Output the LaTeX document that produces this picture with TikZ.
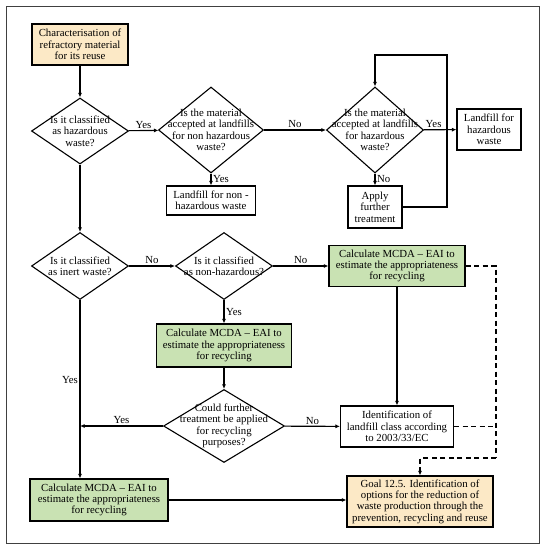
\documentclass[tikz,border=0pt]{standalone}
\usepackage{fontspec}
\setmainfont{Liberation Serif}
\usetikzlibrary{shapes.geometric,arrows.meta}
\definecolor{startyellow}{HTML}{FCE9C6}
\definecolor{mcdagreen}{HTML}{C9E2B3}
\tikzset{
	box/.style={draw, line width=1.1pt, align=center, inner sep=1pt},
	decision/.style={draw, diamond, line width=1.1pt, inner sep=0pt},
	flow/.style={line width=1.1pt, -{Latex[length=4.5pt,width=4pt]}},
	dashflow/.style={line width=1.1pt, dash pattern=on 5pt off 3.5pt},
	lbl/.style={inner sep=1.5pt}
}
\begin{document}
\begin{tikzpicture}[x=1pt, y=-1pt, font=\fontsize{10.8}{11.4}\selectfont]
		\useasboundingbox (0,0) rectangle (546,550);
		% Frame
		\draw[black!75, line width=1pt] (6,6) rectangle (539,543);

		% Boxes
		\node[box, fill=startyellow, minimum width=96pt, minimum height=41pt] (start) at (80,44.5) {Characterisation of\\refractory material\\for its reuse};
		\node[box, minimum width=89pt, minimum height=29pt] (lfnon) at (211,200.5) {Landfill for non -\\hazardous waste};
		\node[box, minimum width=64pt, minimum height=41pt] (lfhaz) at (489,129.5) {Landfill for\\hazardous\\waste};
		\node[box, minimum width=54pt, minimum height=42pt] (apply) at (375,207) {Apply\\further\\treatment};
		\node[box, fill=mcdagreen, minimum width=135pt, minimum height=43pt] (mcdamid) at (224,345.5) {Calculate MCDA -- EAI to\\estimate the appropriateness\\for recycling};
		\node[box, fill=mcdagreen, minimum width=136pt, minimum height=41pt] (mcdaright) at (397,266) {Calculate MCDA -- EAI to\\estimate the appropriateness\\for recycling};
		\node[box, minimum width=113pt, minimum height=41pt] (ident) at (397,426.5) {Identification of\\landfill class according\\to 2003/33/EC};
		\node[box, fill=mcdagreen, minimum width=138pt, minimum height=42pt] (mcdaleft) at (99,500) {Calculate MCDA -- EAI to\\estimate the appropriateness\\for recycling};
		\node[box, fill=startyellow, minimum width=146pt, minimum height=51pt] (goal) at (420,501.5) {Goal 12.5. Identification of\\options for the reduction of\\waste production through the\\prevention, recycling and reuse};

		% Decisions
		\node[decision, minimum width=97pt, minimum height=66pt, label={[align=center]center:Is it classified\\as hazardous\\waste?}] (haz) at (80,131) {};
		\node[decision, minimum width=105pt, minimum height=86pt, label={[align=center]center:Is the material\\accepted at landfills\\for non hazardous\\waste?}] (nonhazland) at (211,130) {};
		\node[decision, minimum width=97pt, minimum height=86pt, label={[align=center]center:Is the material\\accepted at landfills\\for hazardous\\waste?}] (hazland) at (375,130) {};
		\node[decision, minimum width=97pt, minimum height=67pt, label={[align=center]center:Is it classified\\as inert waste?}] (inert) at (80,266) {};
		\node[decision, minimum width=97pt, minimum height=67pt, label={[align=center]center:Is it classified\\as non-hazardous?}] (nonhaz) at (224,266) {};
		\node[decision, minimum width=121pt, minimum height=73pt, label={[align=center]center:Could further\\treatment be applied\\for recycling\\purposes?}] (further) at (224,426) {};

		% Helper points
		\coordinate (loop) at (447,55);
		\coordinate (dashturn) at (496,458);

		% Edges
		\draw[flow] (start) -- (haz);
		\draw[flow] (haz) -- node[lbl, above] {Yes} (nonhazland);
		\draw[flow] (nonhazland) -- node[lbl, above] {No} (hazland);
		\draw[flow] (hazland) -- node[lbl, above, pos=0.3] {Yes} (lfhaz);
		\draw[flow] (nonhazland) -- node[lbl, right] {Yes} (lfnon);
		\draw[flow] (hazland) -- node[lbl, right] {No} (apply);
		\draw[flow] (apply.east) -| (loop) -| (hazland.north);
		\draw[flow] (haz) -- (inert);
		\draw[flow] (inert) -- node[lbl, above] {No} (nonhaz);
		\draw[flow] (nonhaz) -- node[lbl, above] {No} (mcdaright);
		\draw[flow] (nonhaz) -- node[lbl, right] {Yes} (mcdamid);
		\draw[flow] (mcdamid) -- (further);
		\draw[flow] (further) -- node[lbl, above] {No} (ident);
		\draw[flow] (further.west) -- node[lbl, above] {Yes} (further.west -| inert.south);
		\draw[flow] (inert.south) -- node[lbl, left, pos=0.45] {Yes} (inert.south |- mcdaleft.north);
		\draw[flow] (mcdaright) -- (ident);
		\draw[flow] (mcdaleft.east) -- (mcdaleft.east -| goal.west);
		\draw[dashflow] (mcdaright.east) -| (dashturn);
		\draw[dashflow, -{Latex[length=4.5pt,width=4pt]}] (dashturn) -| (goal.north);
		\draw[dashflow] (ident.east) -- (ident.east -| dashturn);
	\end{tikzpicture}
\end{document}
